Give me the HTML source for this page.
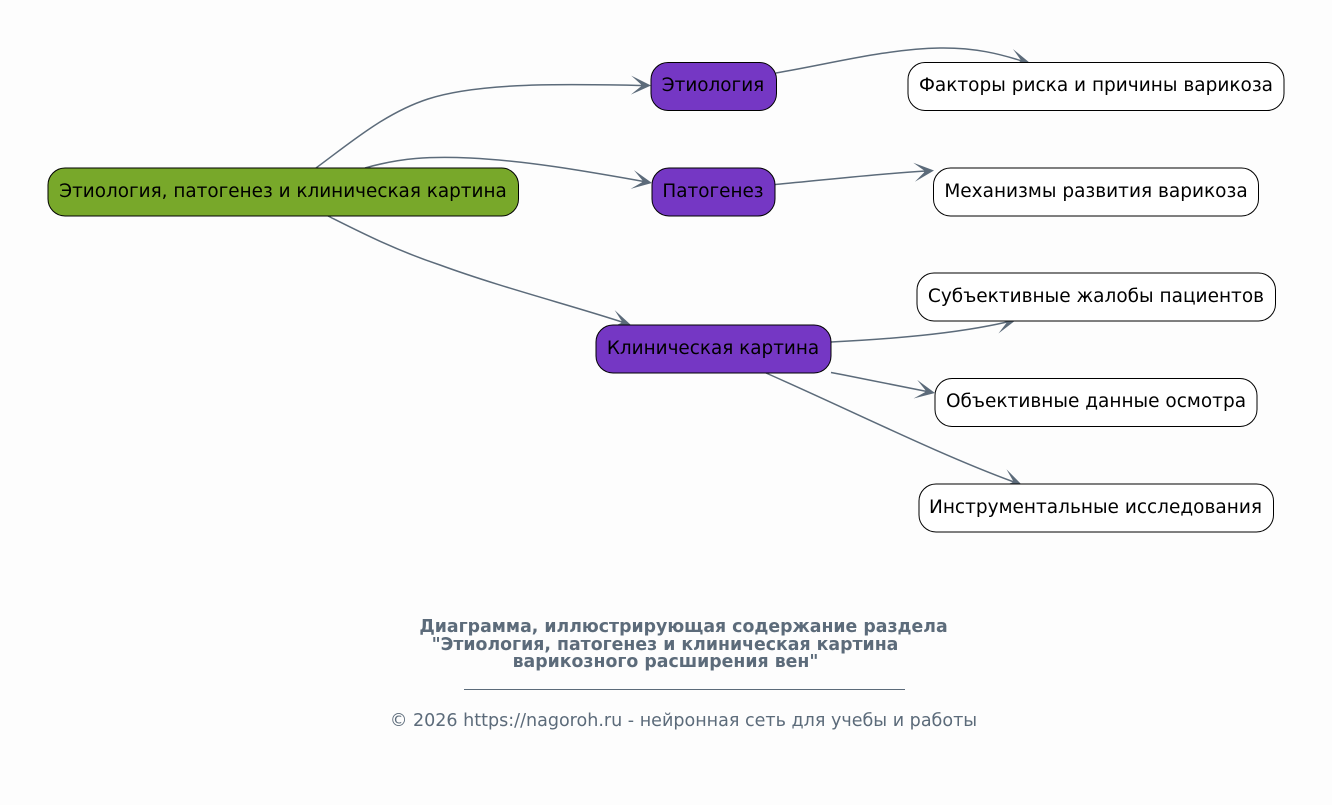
<!DOCTYPE html>
<html lang="ru">
<head>
<meta charset="utf-8">
<title>Диаграмма</title>
<style>
html,body{margin:0;padding:0;background:#fdfdfd;width:1332px;height:805px;overflow:hidden}
svg{display:block}
text{font-family:"DejaVu Sans",sans-serif}
.n{font-size:18.4px;fill:#000;text-anchor:middle}
.w{font-size:18.5px}
.b{stroke:#000;stroke-width:1}
.e{fill:none;stroke:#5c6b7a;stroke-width:1.5}
.a{fill:#5c6b7a;stroke:none}
.t{font-size:17.33px;font-weight:bold;fill:#5c6b7a;text-anchor:middle}
.f{font-size:17.55px;fill:#5c6b7a;text-anchor:middle}
</style>
</head>
<body>
<svg width="1332" height="805" viewBox="0 0 1332 805" xmlns="http://www.w3.org/2000/svg">
<defs>
<path id="h" d="M0 0 L-20 -9.500 L-10 -1 L-10 1 L-20 9.500 Z"/>
</defs>
<rect width="1332" height="805" fill="#fdfdfd"/>

<path class="e" d="M316 168 C350 143 385 113 428 99 C480 82 570 84 642 85.500"/>
<use href="#h" class="a" transform="translate(651,85.500) rotate(1)"/>
<path class="e" d="M365 168 C400 158 430 156 470 158 C530 161 590 172 644 181.500"/>
<use href="#h" class="a" transform="translate(652,183) rotate(10)"/>
<path class="e" d="M328 216 C360 232 395 250 440 265 C500 287 570 305 622 322"/>
<use href="#h" class="a" transform="translate(631,325) rotate(17)"/>

<path class="e" d="M776 73 C830 64 885 49 940 48 C975 47.500 1000 54 1022 61"/>
<use href="#h" class="a" transform="translate(1030,63) rotate(14)"/>
<path class="e" d="M775 184.500 C825 180 875 174 926 171"/>
<use href="#h" class="a" transform="translate(934,170.500) rotate(-5)"/>
<path class="e" d="M831 342 C890 339 955 334 1007 322"/>
<use href="#h" class="a" transform="translate(1016,320) rotate(-12)"/>
<path class="e" d="M831 372.500 C865 379 900 386 927 391.500"/>
<use href="#h" class="a" transform="translate(935,393) rotate(11)"/>
<path class="e" d="M766 373 C850 410 940 455 1014 482"/>
<use href="#h" class="a" transform="translate(1022,485) rotate(20)"/>

<rect class="b" x="48" y="168" width="470.500" height="48" rx="17" fill="#78a82a"/>
<text class="n" x="283" y="197">Этиология, патогенез и клиническая картина</text>

<rect class="b" x="651" y="62.500" width="125.500" height="48" rx="17" fill="#7537c4"/>
<text class="n" x="713" y="91">Этиология</text>
<rect class="b" x="652" y="168" width="123" height="48" rx="17" fill="#7537c4"/>
<text class="n" x="713" y="197">Патогенез</text>
<rect class="b" x="596" y="325" width="235" height="48" rx="17" fill="#7537c4"/>
<text class="n" x="713" y="354">Клиническая картина</text>

<rect class="b" x="908" y="62.500" width="376" height="48" rx="17" fill="#fff"/>
<text class="n w" x="1096" y="91">Факторы риска и причины варикоза</text>
<rect class="b" x="933.500" y="168" width="325" height="48" rx="17" fill="#fff"/>
<text class="n w" x="1096" y="197">Механизмы развития варикоза</text>
<rect class="b" x="917" y="273" width="358.500" height="48" rx="17" fill="#fff"/>
<text class="n w" x="1096" y="302">Субъективные жалобы пациентов</text>
<rect class="b" x="935" y="378.500" width="322" height="48" rx="17" fill="#fff"/>
<text class="n w" x="1096" y="407">Объективные данные осмотра</text>
<rect class="b" x="919" y="484" width="354.500" height="48" rx="17" fill="#fff"/>
<text class="n w" x="1095.500" y="513">Инструментальные исследования</text>

<text class="t" x="683.500" y="632">Диаграмма, иллюстрирующая содержание раздела</text>
<text class="t" x="665" y="650">"Этиология, патогенез и клиническая картина</text>
<text class="t" x="665.500" y="667">варикозного расширения вен"</text>
<rect x="464" y="689" width="441" height="1" fill="#5c6b7a"/>
<text class="f" x="683.500" y="726">© 2026 https://nagoroh.ru - нейронная сеть для учебы и работы</text>
</svg>
</body>
</html>
